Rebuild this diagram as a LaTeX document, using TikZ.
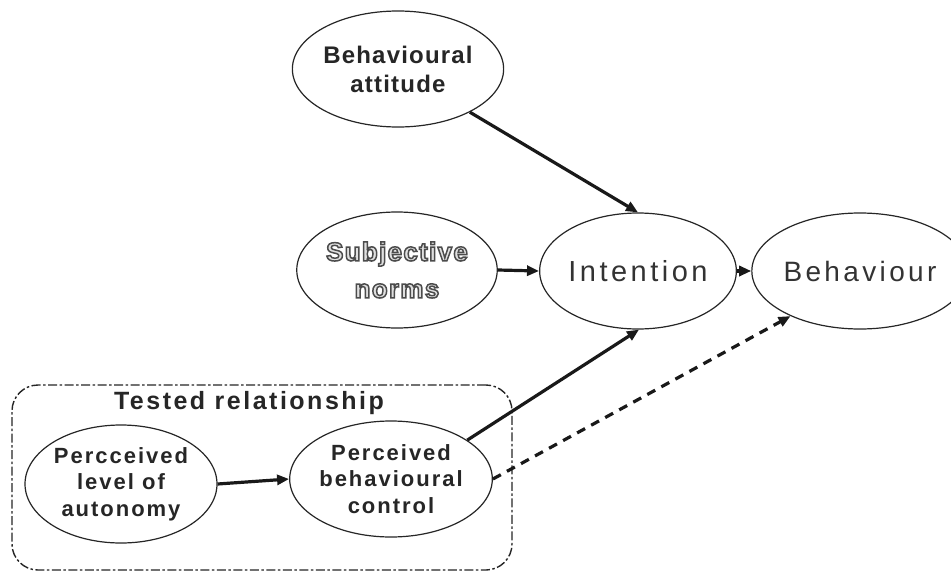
\documentclass[tikz,border=0pt]{standalone}
\usepackage{fontspec}
\usetikzlibrary{shapes.geometric,arrows.meta}
\setmainfont{Liberation Sans}
\newfontfamily\boldlab[LetterSpace=5]{Liberation Sans Bold}
\newfontfamily\boxlab[LetterSpace=9]{Liberation Sans Bold}
\newfontfamily\titlelab[LetterSpace=10]{Liberation Sans Bold}
\newfontfamily\reglab[LetterSpace=12]{Liberation Sans}
\newfontfamily\subjlab[LetterSpace=5]{Liberation Sans Bold}
\newcommand{\hollowtext}[1]{\special{pdf:literal direct 2 Tr 1.5 w 0.3 G}#1\special{pdf:literal direct 0 Tr}}
\tikzset{
  oval/.style={ellipse, draw=black!85, line width=1.2pt, inner sep=0pt,
     minimum width=192pt, minimum height=116pt, align=center, text=black!85},
  conn/.style={line width=3.2pt, draw=black!90, -{Triangle[length=12pt,width=10pt]}},
  dconn/.style={conn, dash pattern=on 9pt off 7pt},
  testbox/.style={draw=black!85, line width=1.4pt, rounded corners=26pt,
     dash pattern=on 9pt off 2.5pt on 2.5pt off 2.5pt}
}
\begin{document}
\begin{tikzpicture}[x=1pt,y=-1pt]
\useasboundingbox (0,0) rectangle (951,581);
\fill[white] (0,0) rectangle (951,581);
\node[testbox, minimum width=500pt, minimum height=185pt, inner sep=0pt] (box) at (262,477.5) {};
\node[font=\titlelab\fontsize{25}{28}\selectfont, text=black!85, inner sep=0pt] (title) at (249,403) {Tested relationship};
\node[oval, font=\boldlab\fontsize{24}{29}\selectfont] (att) at (398,69) {Behavioural\\attitude};
\node[oval, font=\subjlab\fontsize{26}{37}\selectfont, text=black!12] (sub) at (397,270) {\hollowtext{Subjective}\\\hollowtext{norms}};
\node[oval, minimum width=190pt, font=\reglab\fontsize{29}{32}\selectfont, text=black!80] (int) at (638,271) {Intention};
\node[oval, minimum width=180pt, font=\reglab\fontsize{28}{32}\selectfont, text=black!80] (beh) at (860,271) {Behaviour};
\node[oval, minimum height=118pt, font=\boxlab\fontsize{22}{26.5}\selectfont] (aut) at (121,484) {Percceived\\level of\\autonomy};
\node[oval, minimum width=198pt, font=\boxlab\fontsize{22}{26.5}\selectfont] (pbc) at (391,479) {Perceived\\behavioural\\control};
\draw[conn] (att.-31) -- (int.north);
\draw[conn] (sub.east) -- (int.west);
\draw[conn] (int.east) -- (beh.west);
\draw[conn] (aut.east) -- (pbc.west);
\draw[conn] (pbc.27) -- (int.-89);
\draw[dconn] (pbc.east) -- (beh.-147);
\end{tikzpicture}
\end{document}
